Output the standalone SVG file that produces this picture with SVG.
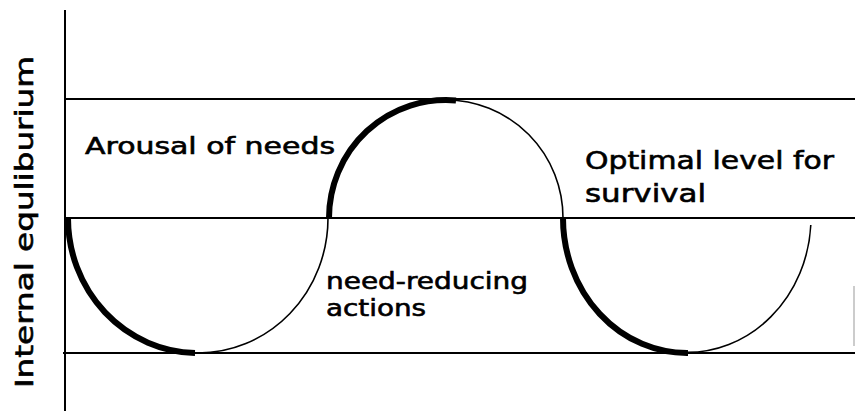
<svg xmlns="http://www.w3.org/2000/svg" width="855" height="411" viewBox="0 0 855 411">
  <style>
    .axis { stroke: #000; stroke-width: 2; fill: none; }
    .curve { stroke: #000; stroke-width: 1.6; fill: none; }
    .phase { stroke: #000; stroke-width: 6; fill: none; stroke-linecap: butt; }
    .label { font-family: "DejaVu Sans", "Liberation Sans", sans-serif; font-weight: normal; fill: #000; stroke: #000; stroke-width: 0.6; }
  </style>
  <rect width="855" height="411" fill="#fff"/>

  <!-- axis and level lines -->
  <g id="axes">
    <line class="axis" x1="65" y1="10" x2="65" y2="411"/>
    <line class="axis" x1="65" y1="99" x2="855" y2="99"/>
    <line class="axis" x1="65" y1="218" x2="855" y2="218"/>
    <line class="axis" x1="63" y1="353" x2="855" y2="353"/>
    <line x1="854" y1="286" x2="854" y2="346" stroke="#999" stroke-width="1"/>
  </g>

  <!-- oscillating equilibrium curve -->
  <g id="connectors">
    <path class="curve" d="M68,218 A130,135 0 0 0 328,218"/>
    <path class="curve" d="M329,218 A117,118 0 0 1 563,218"/>
    <path class="curve" d="M563,218 A124,135 0 0 0 810.8,225"/>
    <!-- emphasised segments -->
    <path class="phase" d="M68,218 A130,135 0 0 0 195,353"/>
    <path class="phase" d="M329,218 A117,118 0 0 1 456,100.4"/>
    <path class="phase" d="M563,218 A124,135 0 0 0 688,353"/>
  </g>

  <g id="y-label">
    <text class="label" font-size="25" transform="translate(33,388) rotate(-90)" textLength="332" lengthAdjust="spacingAndGlyphs">Internal equliburium</text>
  </g>
  <g id="arousal">
    <text class="label" x="85" y="154" font-size="23" textLength="250" lengthAdjust="spacingAndGlyphs">Arousal of needs</text>
  </g>
  <g id="optimal">
    <text class="label" x="585" y="169" font-size="25" textLength="249" lengthAdjust="spacingAndGlyphs">Optimal level for</text>
    <text class="label" x="585" y="202" font-size="25" textLength="121" lengthAdjust="spacingAndGlyphs">survival</text>
  </g>
  <g id="actions">
    <text class="label" x="326" y="289" font-size="23" textLength="202" lengthAdjust="spacingAndGlyphs">need-reducing</text>
    <text class="label" x="326" y="316" font-size="23" textLength="100" lengthAdjust="spacingAndGlyphs">actions</text>
  </g>
</svg>
